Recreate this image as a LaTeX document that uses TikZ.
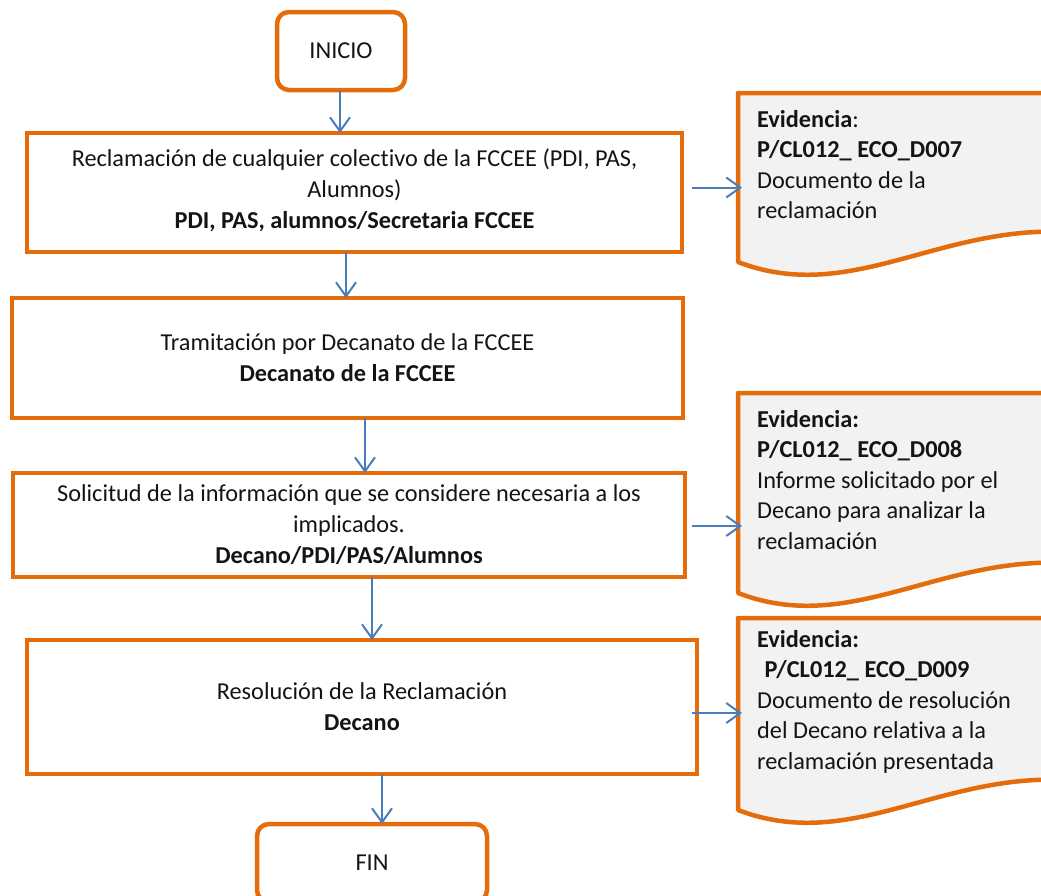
\documentclass[tikz,border=0pt]{standalone}
\usepackage{fontspec}
\setmainfont{Carlito}[Ligatures=NoCommon]
\usetikzlibrary{arrows.meta,calc}
\definecolor{orng}{HTML}{E46C0A}
\definecolor{arrblue}{HTML}{4A7EBB}
\definecolor{docfill}{HTML}{F2F2F2}
\definecolor{txt}{HTML}{141414}
\tikzset{
  procbox/.style={draw=orng, line width=4.5pt, fill=white, inner sep=0pt, outer sep=0pt,
    align=center, text=txt, font=\fontsize{24.3}{31}\selectfont},
  termbox/.style={procbox, rounded corners=12pt},
  docbase/.style={inner sep=0pt, outer sep=0pt, minimum width=330pt, anchor=north west},
  docline/.style={draw=orng, line width=4.5pt, fill=docfill, line join=round},
  doctext/.style={anchor=base west, align=left, text=txt, inner sep=0pt,
    font=\fontsize{24.3}{30.5}\selectfont},
  arr/.style={draw=arrblue, line width=2pt, -{Straight Barb[length=14pt,width=20pt,line width=2pt]}},
}
\newcommand{\docpath}[1]{%
  \path[docline] (#1.north west) -- (#1.north east) -- ($(#1.south east)+(0,-30)$)
    .. controls +(-130,-7) and +(112,43) .. (#1.south west) -- cycle;}
\begin{document}
\begin{tikzpicture}[x=1pt,y=-1pt]
\useasboundingbox (0,0) rectangle (1041,895);
\clip (0,0) rectangle (1041,895);

\node[termbox, minimum width=128pt, minimum height=78pt] (ini) at (341,51) {INICIO};
\node[procbox, minimum width=655pt, minimum height=119pt, text depth=8pt] (b1) at (354.5,192.5)
  {Reclamación de cualquier colectivo de la FCCEE (PDI, PAS,\\ Alumnos)\\ \textbf{PDI, PAS, alumnos/Secretaria FCCEE}};
\node[procbox, minimum width=671pt, minimum height=120pt] (b2) at (347.5,358)
  {Tramitación por Decanato de la FCCEE\\ \textbf{Decanato de la FCCEE}};
\node[procbox, minimum width=672pt, minimum height=104pt] (b3) at (349,525)
  {Solicitud de la información que se considere necesaria a los\\ implicados.\\ \textbf{Decano/PDI/PAS/Alumnos}};
\node[procbox, minimum width=670pt, minimum height=134pt] (b4) at (362,707)
  {Resolución de la Reclamación\\ \textbf{Decano}};
\node[termbox, minimum width=230pt, minimum height=78pt] (fin) at (372,863) {FIN};

% documents
\node[docbase, minimum height=169pt] (d1) at (738,93) {};
\docpath{d1}
\node[doctext] (t1) at (757,218.5) {\textbf{Evidencia}:\\ \textbf{P/CL012\_ ECO\_D007}\\ Documento de la\\ reclamación};

\node[docbase, minimum height=200pt] (d2) at (738,393) {};
\docpath{d2}
\node[doctext] (t2) at (757,549) {\textbf{Evidencia:}\\ \textbf{P/CL012\_ ECO\_D008}\\ Informe solicitado por el\\ Decano para analizar la\\ reclamación};

\node[docbase, minimum height=192pt] (d3) at (738,618) {};
\docpath{d3}
\node[doctext] (t3) at (757,769) {\textbf{Evidencia:}\\ \hspace{0.3em}\textbf{P/CL012\_ ECO\_D009}\\ Documento de resolución\\ del Decano relativa a la\\ reclamación presentada};

% vertical connectors
\draw[arr] ([xshift=-1pt]ini.south) -- ([xshift=-1pt]ini.south |- b1.north);
\draw[arr] ([xshift=-8.5pt]b1.south) -- ([xshift=-8.5pt]b1.south |- b2.north);
\draw[arr] ([xshift=17.5pt]b2.south) -- ([xshift=17.5pt]b2.south |- b3.north);
\draw[arr] ([xshift=23pt]b3.south) -- ([xshift=23pt]b3.south |- b4.north);
\draw[arr] ([xshift=20pt]b4.south) -- ([xshift=20pt]b4.south |- fin.north);

% side connectors
\draw[arr] ($(b1.east)+(10,-5)$) -- ($(b1.east -| d1.west)+(4,-5)$);
\draw[arr] ($(b3.east)+(7,1)$) -- ($(b3.east -| d2.west)+(4,1)$);
\draw[arr] ($(b4.east)+(-5,6)$) -- ($(b4.east -| d3.west)+(4,6)$);
\end{tikzpicture}
\end{document}
